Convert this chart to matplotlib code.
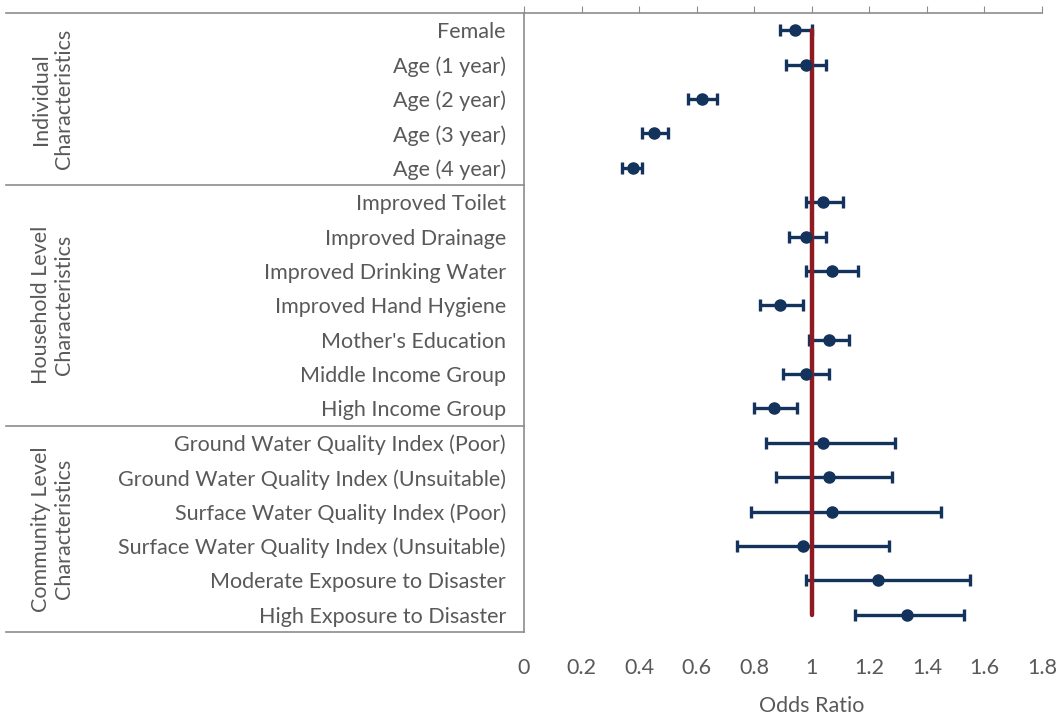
import matplotlib
matplotlib.use("Agg")
import matplotlib.pyplot as plt
import matplotlib.transforms as mtransforms

plt.rcParams["font.family"] = ["Lato", "DejaVu Sans"]

# Predictors, listed top to bottom
labels = [
    "Female", "Age (1 year)", "Age (2 year)", "Age (3 year)", "Age (4 year)",
    "Improved Toilet", "Improved Drainage", "Improved Drinking Water",
    "Improved Hand Hygiene", "Mother's Education", "Middle Income Group",
    "High Income Group",
    "Ground Water Quality Index (Poor)", "Ground Water Quality Index (Unsuitable)",
    "Surface Water Quality Index (Poor)", "Surface Water Quality Index (Unsuitable)",
    "Moderate Exposure to Disaster", "High Exposure to Disaster",
]
odds_ratio = [0.94, 0.98, 0.62, 0.45, 0.38,
              1.04, 0.98, 1.07, 0.89, 1.06, 0.98, 0.87,
              1.04, 1.06, 1.07, 0.97, 1.23, 1.33]
ci_low = [0.89, 0.91, 0.57, 0.41, 0.34,
          0.98, 0.92, 0.98, 0.82, 0.99, 0.90, 0.80,
          0.84, 0.875, 0.79, 0.74, 0.98, 1.15]
ci_high = [1.00, 1.05, 0.67, 0.50, 0.41,
           1.11, 1.05, 1.16, 0.97, 1.13, 1.06, 0.95,
           1.29, 1.28, 1.45, 1.27, 1.55, 1.53]

groups = ["Individual\nCharacteristics", "Household Level\nCharacteristics",
          "Community Level\nCharacteristics"]
group_sizes = [5, 7, 6]

x_ticks = [0, 0.2, 0.4, 0.6, 0.8, 1, 1.2, 1.4, 1.6, 1.8]
x_ticklabels = ["0", "0.2", "0.4", "0.6", "0.8", "1", "1.2", "1.4", "1.6", "1.8"]

navy = "#14335C"
red = "#8E1B22"
text_col = "#595959"
axis_col = "#8C8C8C"
fs = 15.5

fig = plt.figure(figsize=(10.6, 7.17), dpi=100)
ax = fig.add_axes([524 / 1060, 1 - 632 / 717, (1042 - 524) / 1060, (632 - 13) / 717])

ypos = list(range(len(labels)))
xerr = [[o - l for o, l in zip(odds_ratio, ci_low)],
        [h - o for o, h in zip(odds_ratio, ci_high)]]
ax.errorbar(odds_ratio, ypos, xerr=xerr, fmt="none", ecolor=navy,
            elinewidth=2.4, capsize=4, capthick=2.4, zorder=2)
ax.plot([1, 1], [ypos[0], ypos[-1]], color=red, lw=3.2,
        solid_capstyle="round", zorder=3)
ax.plot(odds_ratio, ypos, "o", color=navy, ms=8, zorder=4)

ax.set_xlim(0, 1.8)
ax.set_ylim(len(labels) - 0.5, -0.5)

ax.set_yticks(ypos)
ax.set_yticklabels(labels, fontsize=fs, color=text_col)
ax.tick_params(axis="y", length=0, pad=13)

ax.set_xticks(x_ticks)
ax.set_xticklabels(x_ticklabels, fontsize=fs, color=text_col)
ax.tick_params(axis="x", top=True, bottom=False, labeltop=False,
               labelbottom=True, direction="out", length=5,
               color=axis_col, pad=14)
ax.set_xlabel("Odds Ratio", fontsize=fs, color=text_col, va="center")
ax.xaxis.set_label_coords((812 - 524) / 518, -(706 - 632) / 619)

for side in ["right", "bottom"]:
    ax.spines[side].set_visible(False)
for side in ["left", "top"]:
    ax.spines[side].set_color(axis_col)
    ax.spines[side].set_linewidth(1.2)

# Group dividers and labels along the category axis
trans = mtransforms.blended_transform_factory(ax.transAxes, ax.transData)
bounds = [-0.5]
for size in group_sizes:
    bounds.append(bounds[-1] + size)
for b in bounds:
    ax.plot([-1.0, 0], [b, b], color=axis_col, lw=1.2, transform=trans,
            clip_on=False)
for name, lo, hi in zip(groups, bounds[:-1], bounds[1:]):
    ax.text(-0.910, (lo + hi) / 2, name, transform=trans, rotation=90,
            ha="center", va="center", multialignment="center",
            fontsize=fs, color=text_col, linespacing=1.15)

fig.savefig("out.png", dpi=100)
